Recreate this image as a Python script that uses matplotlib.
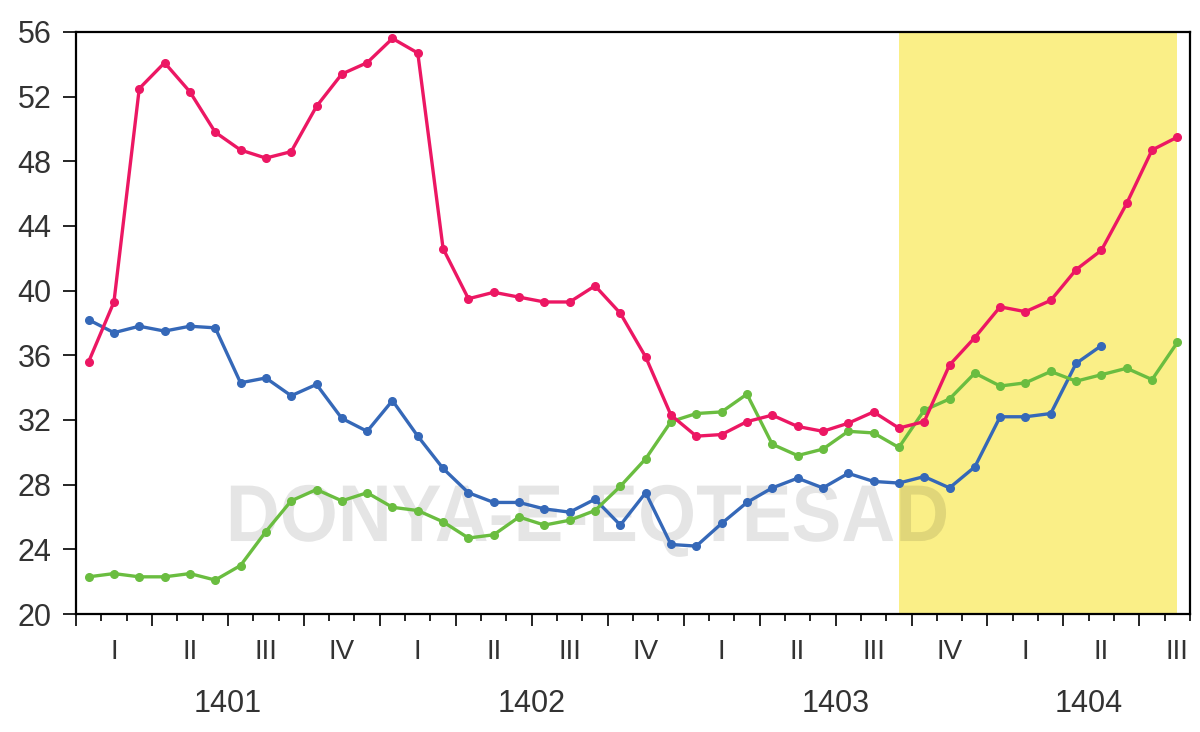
import numpy as np
import matplotlib.pyplot as plt
from matplotlib.ticker import MultipleLocator
from matplotlib.textpath import TextPath
from matplotlib.patches import PathPatch
from matplotlib.font_manager import FontProperties
from matplotlib.transforms import Affine2D

# monthly values, first month = 1401 I (month 1)
pink = [35.6, 39.3, 52.5, 54.1, 52.3, 49.8, 48.7, 48.2, 48.6, 51.4, 53.4, 54.1,
        55.6, 54.7, 42.6, 39.5, 39.9, 39.6, 39.3, 39.3, 40.3, 38.6, 35.9, 32.3,
        31.0, 31.1, 31.9, 32.3, 31.6, 31.3, 31.8, 32.5, 31.5, 31.9, 35.4, 37.1,
        39.0, 38.7, 39.4, 41.3, 42.5, 45.4, 48.7, 49.5]
blue = [38.2, 37.4, 37.8, 37.5, 37.8, 37.7, 34.3, 34.6, 33.5, 34.2, 32.1, 31.3,
        33.2, 31.0, 29.0, 27.5, 26.9, 26.9, 26.5, 26.3, 27.1, 25.5, 27.5, 24.3,
        24.2, 25.6, 26.9, 27.8, 28.4, 27.8, 28.7, 28.2, 28.1, 28.5, 27.8, 29.1,
        32.2, 32.2, 32.4, 35.5, 36.6]
green = [22.3, 22.5, 22.3, 22.3, 22.5, 22.1, 23.0, 25.1, 27.0, 27.7, 27.0, 27.5,
         26.6, 26.4, 25.7, 24.7, 24.9, 26.0, 25.5, 25.8, 26.4, 27.9, 29.6, 31.9,
         32.4, 32.5, 33.6, 30.5, 29.8, 30.2, 31.3, 31.2, 30.3, 32.6, 33.3, 34.9,
         34.1, 34.3, 35.0, 34.4, 34.8, 35.2, 34.5, 36.8]

quarters = ['I', 'II', 'III', 'IV'] * 3 + ['I', 'II', 'III']
years = ['1401', '1402', '1403', '1404']
n_months = 44
shade_from = 32   # index of first highlighted month

plt.rcParams['font.family'] = ['Liberation Sans', 'DejaVu Sans']

fig = plt.figure(figsize=(12, 7.32), dpi=100)
ax = fig.add_axes([0.0633, 0.1612, 0.9284, 0.7951])

x_p = np.arange(len(pink)) + 0.5
x_b = np.arange(len(blue)) + 0.5
x_g = np.arange(len(green)) + 0.5

ax.axvspan(x_p[shade_from], x_p[-1], color='#faef87', lw=0, zorder=0)

# watermark, squeezed to the narrow bold lettering of the original
fp = FontProperties(family='Liberation Sans', weight='bold')
wm = TextPath((0, 0), 'DONYA-E-EQTESAD', size=1, prop=fp)
cap = TextPath((0, 0), 'DONYA', size=1, prop=fp).get_extents()
ext = wm.get_extents()
x0, x1, y0, y1 = 0.139, 0.781, 0.124, 0.222
t = (Affine2D().translate(-ext.x0, -cap.y0)
     .scale((x1 - x0) / ext.width, (y1 - y0) / cap.height)
     .translate(x0, y0) + ax.transAxes)
ax.add_patch(PathPatch(wm, transform=t, facecolor='black', edgecolor='none',
                       alpha=0.1, zorder=1))

kw = dict(lw=2.4, marker='o', markersize=5.5, zorder=3)
ax.plot(x_b, blue, color='#3568b8', **kw)
ax.plot(x_g, green, color='#6abd40', **kw)
ax.plot(x_p, pink, color='#ec1763', **kw)

ax.set_xlim(0, n_months)
ax.set_ylim(20, 56)
ax.yaxis.set_major_locator(MultipleLocator(4))
ax.xaxis.set_major_locator(MultipleLocator(3))
ax.xaxis.set_minor_locator(MultipleLocator(1))
ax.set_xticklabels([])
ax.tick_params(axis='y', direction='out', length=9.5, width=1.2, pad=8,
               labelsize=22, labelcolor='#333333')
ax.tick_params(axis='x', which='major', direction='out', length=8.5, width=1.2)
ax.tick_params(axis='x', which='minor', direction='out', length=5, width=1.2)
for s in ax.spines.values():
    s.set_linewidth(1.6)

tr = ax.get_xaxis_transform()
for q, lab in enumerate(quarters):
    ax.text(3 * q + 1.5, -0.065, lab, transform=tr, ha='center', va='center',
            fontsize=20, color='#333333')
for k, yr in enumerate(years):
    lo = 12 * k
    hi = min(12 * (k + 1), n_months)
    ax.text((lo + hi) / 2, -0.154, yr, transform=tr, ha='center', va='center',
            fontsize=22, color='#333333')

fig.savefig('out.png', dpi=100)
